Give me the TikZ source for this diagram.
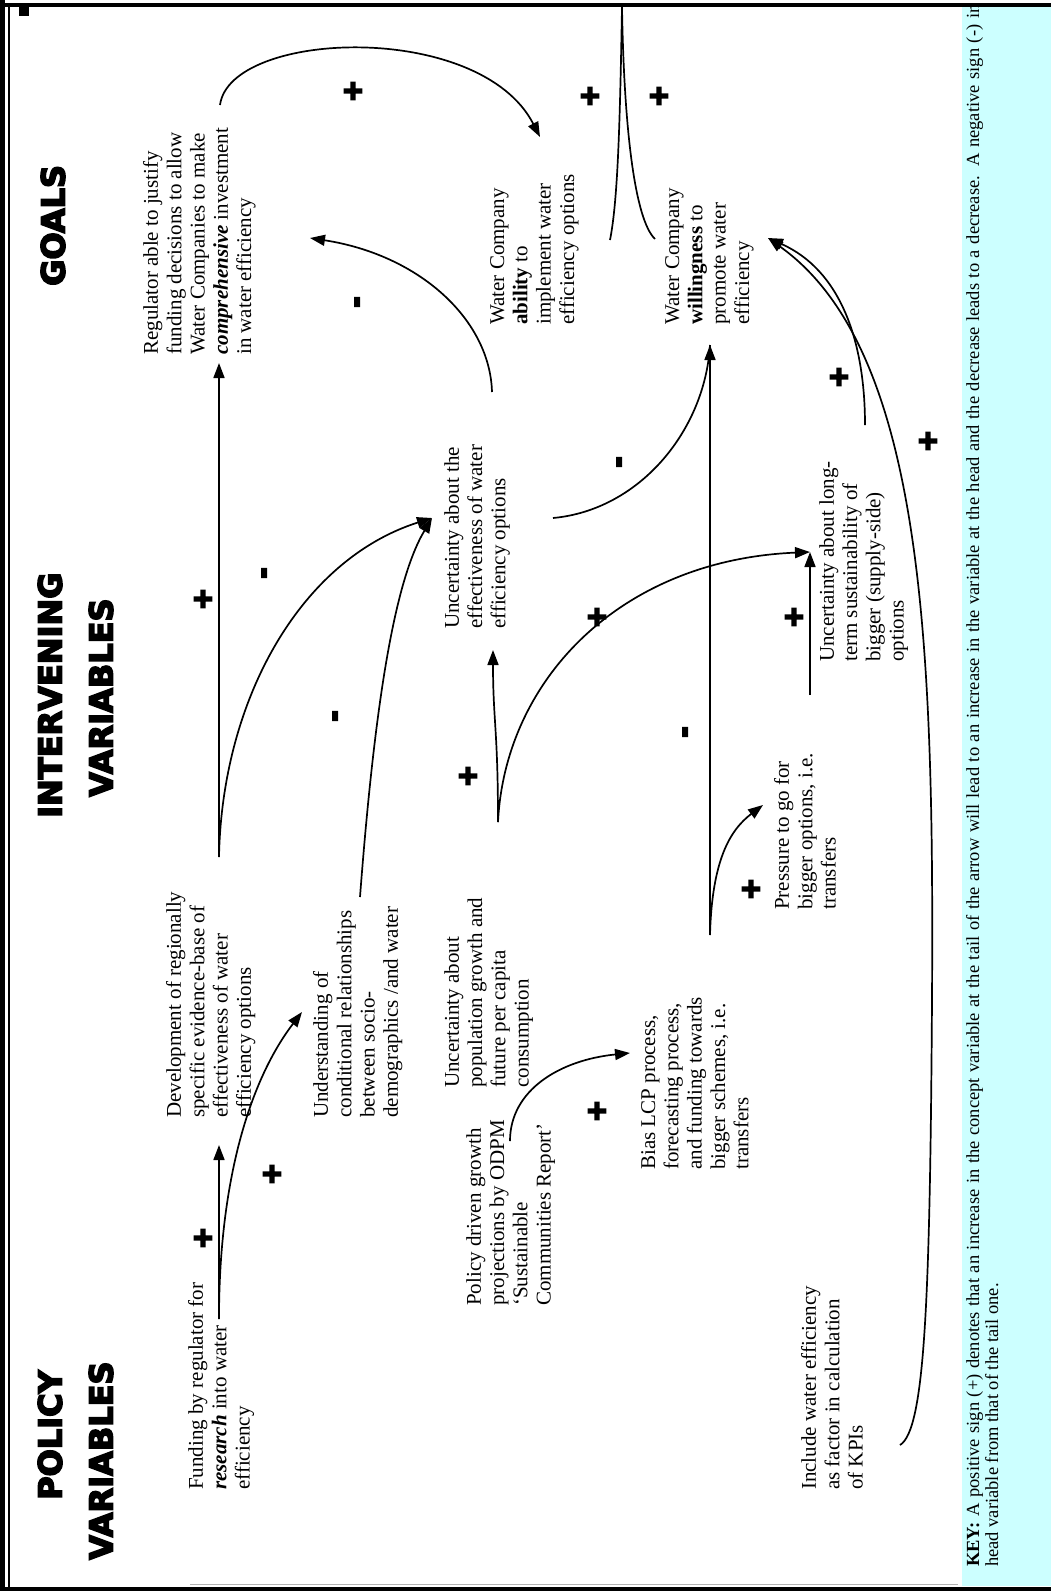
\documentclass[tikz,border=0pt]{standalone}
\usepackage{fontspec}
\setmainfont{Liberation Serif}
\newfontfamily\headfont{DejaVu Sans}[BoldFeatures={FakeBold=5}]
\newfontfamily\signfont{DejaVu Sans}[BoldFeatures={FakeBold=9}]
\usetikzlibrary{arrows.meta}
\definecolor{keycyan}{HTML}{CCFFFF}
\begin{document}
\begin{tikzpicture}[x=1pt,y=-1pt,
  vartext/.style={rotate=90, anchor=north west, align=left, inner sep=0pt,
    font=\fontsize{21}{23.3}\selectfont},
  header/.style={rotate=90, anchor=west, inner sep=0pt,
    font=\headfont\bfseries\fontsize{32}{32}\selectfont},
  plus/.style={inner sep=0pt, font=\signfont\bfseries\fontsize{26}{26}\selectfont},
  minus/.style={inner sep=0pt, rotate=90, font=\signfont\bfseries\fontsize{26}{26}\selectfont},
  arr/.style={draw, line width=1.7pt, -{Triangle[length=15pt,width=11pt]}},
  link/.style={draw, line width=1.7pt}]
\useasboundingbox (0,0) rectangle (1051,1591);
\clip (0,0) rectangle (1051,1591);
% key area and frame
\fill[keycyan] (962,7) rectangle (1051,1586);
\draw[line width=4pt] (0,5) -- (1051,5);
\draw[line width=4pt] (0,1589) -- (1051,1589);
\draw[line width=5pt] (2.5,0) -- (2.5,1591);
\draw[line width=1.2pt] (9,7) -- (9,1587);
\draw[gray!60, line width=1pt] (190,1584) -- (958,1584);
\fill (19,6) rectangle (29,16);
% headers
\node[header] (hgoals) at (53,286) {GOALS};
\node[header] (hint) at (50,818) {INTERVENING};
\node[header] (hintv) at (101,797) {VARIABLES};
\node[header] (hpol) at (50,1500) {POLICY};
\node[header] (hpolv) at (101,1560) {VARIABLES};
% variables
\node[vartext] (g1) at (143,355) {Regulator able to justify\\funding decisions to allow\\Water Companies to make\\\textbf{\textit{comprehensive}} investment\\in water efficiency};
\node[vartext] (g2) at (490,325) {Water Company\\\textbf{ability} to\\implement water\\efficiency options};
\node[vartext] (g3) at (665,325) {Water Company\\\textbf{willingness} to\\promote water\\efficiency};
\node[vartext] (ue) at (444,629) {Uncertainty about the\\effectiveness of water\\efficiency options};
\node[vartext] (lt) at (819,662) {Uncertainty about long-\\term sustainability of\\bigger (supply-side)\\options};
\node[vartext] (dev) at (166,1118) {Development of regionally\\specific evidence-base of\\effectiveness of water\\efficiency options};
\node[vartext] (und) at (313,1118) {Understanding of\\conditional relationships\\between socio-\\demographics /and water};
\node[vartext] (pop) at (444,1088) {Uncertainty about\\population growth and\\future per capita\\consumption};
\node[vartext] (pr) at (774,910) {Pressure to go for\\bigger options, i.e.\\transfers};
\node[vartext] (bias) at (641,1170) {Bias LCP process,\\forecasting process,\\and funding towards\\bigger schemes, i.e.\\transfers};
\node[vartext] (fund) at (188,1490) {Funding by regulator for\\\textbf{\textit{research}} into water\\efficiency};
\node[vartext] (pol) at (466,1306) {Policy driven growth\\projections by ODPM\\‘Sustainable\\Communities Report’};
\node[vartext] (inc) at (801,1490) {Include water efficiency\\as factor in calculation\\of KPIs};
% key
\node[rotate=90, anchor=north west, align=left, inner sep=0pt, font=\fontsize{18.5}{19}\selectfont] (key) at (966,1567)
 {\makebox[1562pt][s]{\textbf{KEY:} A positive sign (+) denotes that an increase in the concept variable at the tail of the arrow will lead to an increase in the variable at the head and the decrease leads to a decrease. A negative sign (-) in}\\head variable from that of the tail one.};
% connector end points
\coordinate (fundT) at (219,1319);
\coordinate (devH) at (219,1145);
\coordinate (undH) at (302,1012);
\coordinate (devT) at (219,857);
\coordinate (g1H) at (219,363);
\coordinate (ueH1) at (432,518);
\coordinate (undT) at (360,897);
\coordinate (popT) at (498,822);
\coordinate (ueH2) at (493,650);
\coordinate (ltH) at (810,552);
\coordinate (ueT1) at (492,392);
\coordinate (g1H2) at (310,238);
\coordinate (ueT2) at (553,518);
\coordinate (g3H1) at (710,345);
\coordinate (biasT) at (710,935);
\coordinate (prH) at (763,805);
\coordinate (prT) at (810,695);
\coordinate (ltT) at (865,425);
\coordinate (g3H2) at (768,238);
\coordinate (incT) at (900,1445);
\coordinate (incM) at (932,1000);
\coordinate (polT) at (510,1141);
\coordinate (biasH) at (630,1053);
\coordinate (g1T) at (220,105);
\coordinate (g2H) at (540,137);
\coordinate (g2T) at (610,240);
\coordinate (g3T) at (655,239);
\coordinate (offtop) at (622,7);
% connectors
\draw[arr] (fundT) -- (devH);
\draw[arr] (fundT) .. controls (219,1180) and (250,1080) .. (undH);
\draw[arr] (devT) -- (g1H);
\draw[arr] (devT) .. controls (222,700) and (300,560) .. (ueH1);
\draw[arr] (undT) .. controls (375,700) and (395,580) .. (ueH1);
\draw[arr] (popT) .. controls (498,730) and (493,720) .. (ueH2);
\draw[arr] (popT) .. controls (505,680) and (620,560) .. (ltH);
\draw[arr] (ueT1) .. controls (490,320) and (420,255) .. (g1H2);
\draw[link] (ueT2) .. controls (640,510) and (705,430) .. (g3H1);
\draw[arr] (biasT) -- (g3H1);
\draw[arr] (biasT) .. controls (712,860) and (730,830) .. (prH);
\draw[arr] (prT) -- (ltH);
\draw[arr] (ltT) .. controls (865,340) and (840,270) .. (g3H2);
\draw[arr] (incT) .. controls (925,1430) and (930,1300) .. (incM) .. controls (934,650) and (925,350) .. (g3H2);
\draw[arr] (polT) .. controls (510,1090) and (560,1060) .. (biasH);
\draw[arr] (g1T) .. controls (230,30) and (480,20) .. (g2H);
\draw[link] (g2T) .. controls (618,200) and (620,120) .. (offtop);
\draw[link] (g3T) .. controls (635,220) and (624,130) .. (offtop);
% signs
\node[plus] (s1) at (203,1238) {+};
\node[plus] (s2) at (272,1174) {+};
\node[plus] (s3) at (203,599) {+};
\node[minus] (s4) at (267,573) {-};
\node[minus] (s5) at (338,716) {-};
\node[plus] (s6) at (468,776) {+};
\node[plus] (s7) at (597,617) {+};
\node[minus] (s8) at (360,302) {-};
\node[minus] (s9) at (622,462) {-};
\node[minus] (s10) at (688,732) {-};
\node[plus] (s11) at (751,889) {+};
\node[plus] (s12) at (794,617) {+};
\node[plus] (s13) at (839,377) {+};
\node[plus] (s14) at (928,441) {+};
\node[plus] (s15) at (597,1111) {+};
\node[plus] (s16) at (353,91) {+};
\node[plus] (s17) at (590,96) {+};
\node[plus] (s18) at (659,96) {+};
\end{tikzpicture}
\end{document}
